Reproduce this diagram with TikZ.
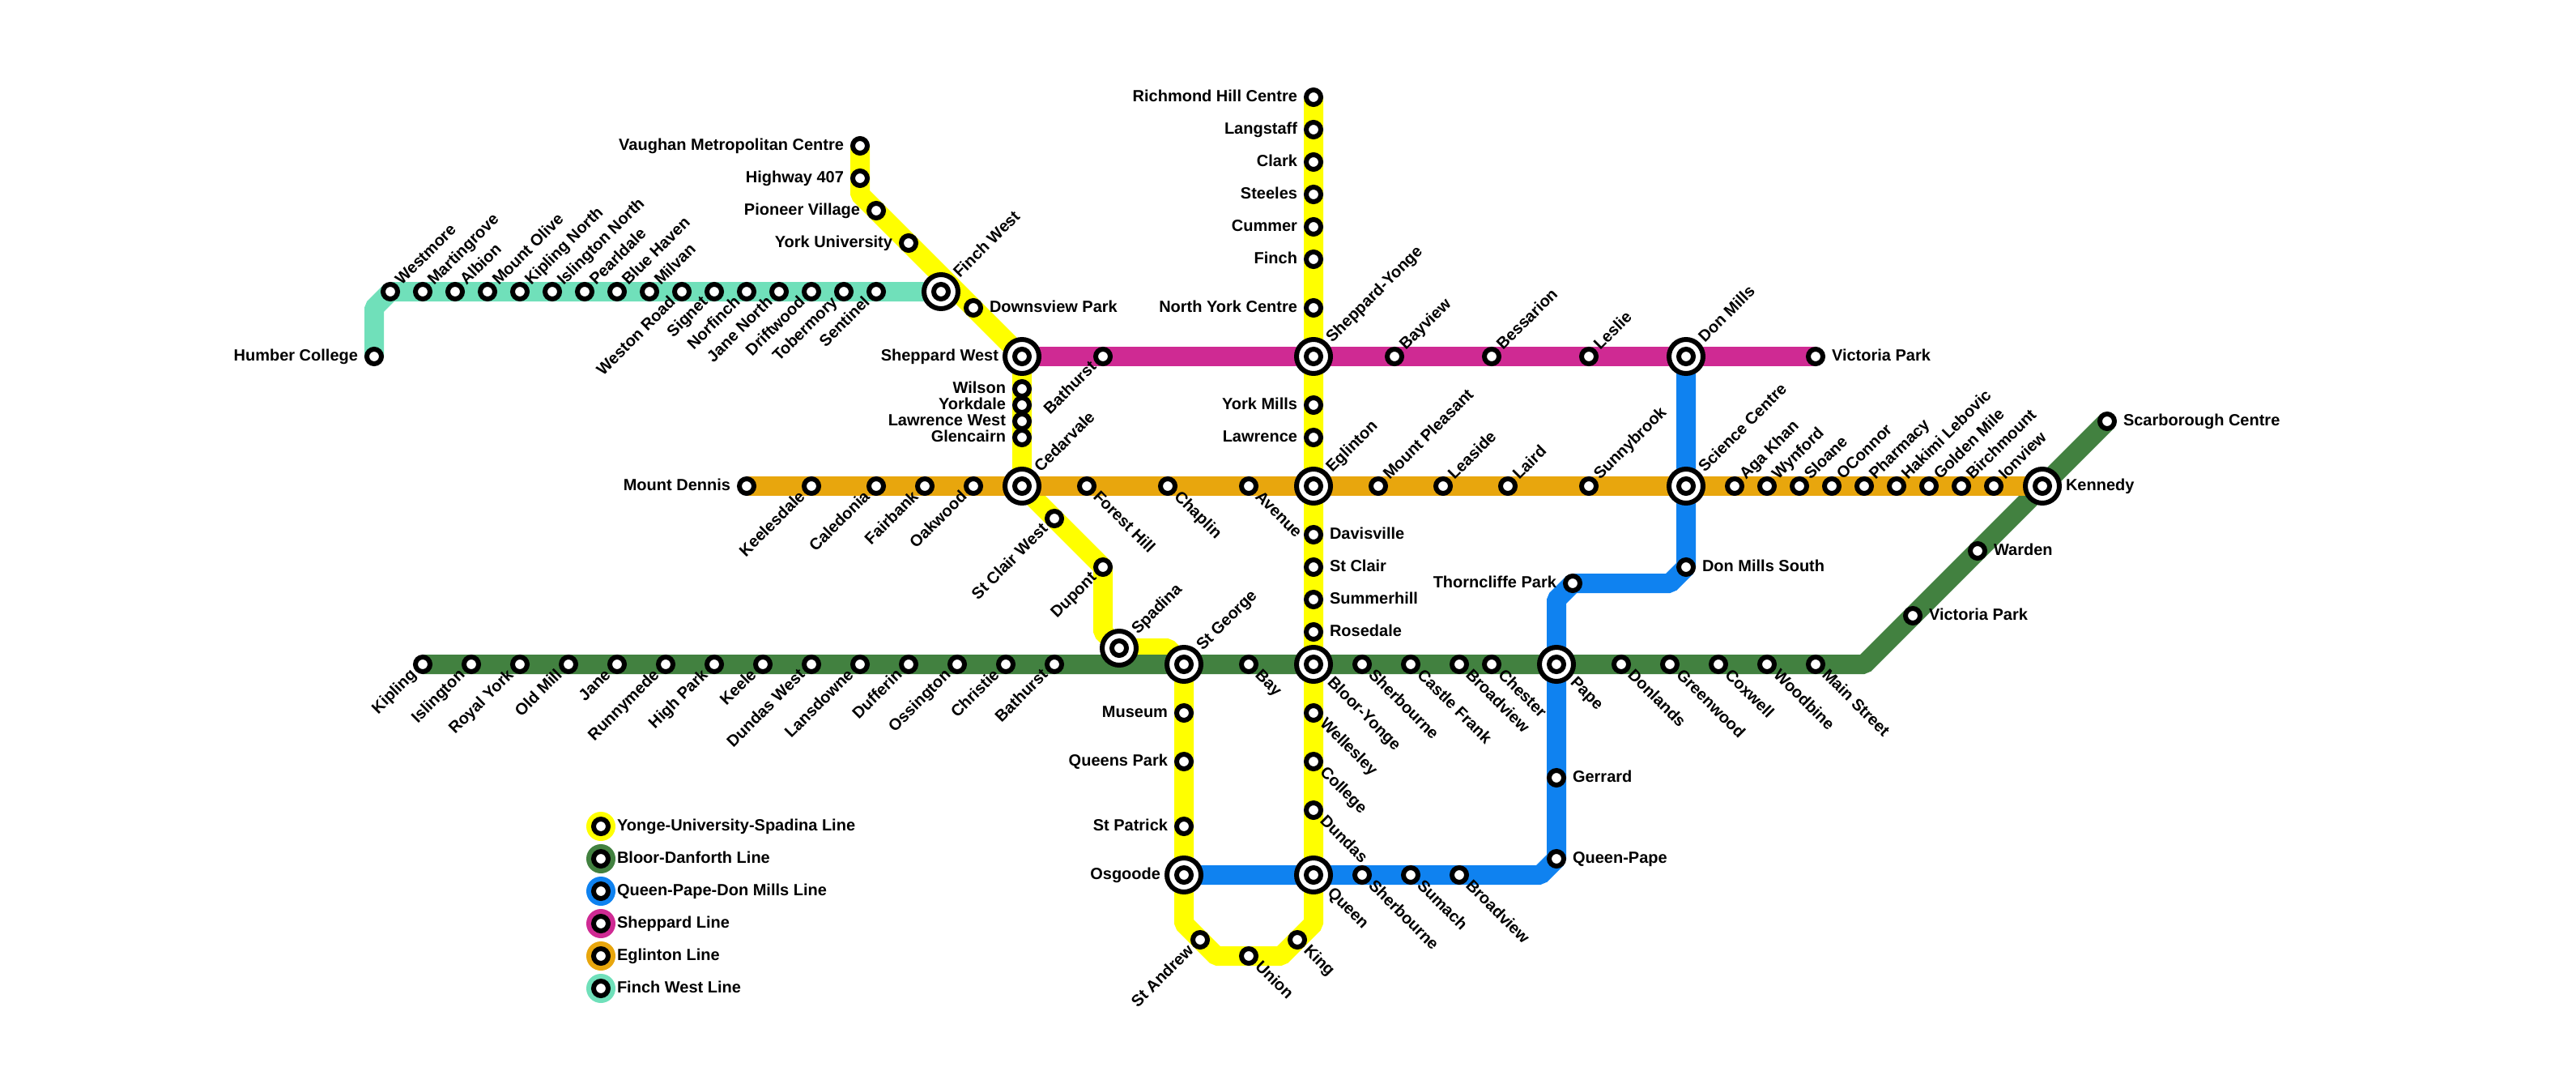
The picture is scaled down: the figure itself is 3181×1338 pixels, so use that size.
\documentclass[tikz,border=0pt]{standalone}
\usepackage{fontspec}
\setmainfont{Liberation Sans}
\usetikzlibrary{backgrounds}
\definecolor{lnyellow}{RGB}{255,255,0}
\definecolor{lngreen}{RGB}{66,129,64}
\definecolor{lnblue}{RGB}{15,130,240}
\definecolor{lnpink}{RGB}{207,42,147}
\definecolor{lnorange}{RGB}{232,166,13}
\definecolor{lnmint}{RGB}{112,224,186}
\tikzset{
    stn/.style={circle, draw=black, fill=white, line width=6pt, minimum size=18pt, inner sep=0pt, outer sep=0pt},
    xch/.style={circle, draw=black, fill=white, line width=6pt, minimum size=42pt, inner sep=0pt, outer sep=0pt},
    legdot/.style={circle, minimum size=36pt, inner sep=0pt, outer sep=0pt},
    txt/.style={font=\fontsize{20}{22}\selectfont\bfseries, inner sep=0pt, outer sep=0pt, text height=14pt, text depth=4pt},
    lw/.style={txt, anchor=east, xshift=-20pt},
    le/.style={txt, anchor=west, xshift=20pt},
    lne/.style={txt, rotate=45, anchor=west, xshift=15pt},
    lse/.style={txt, rotate=-45, anchor=west, xshift=15pt},
    lsw/.style={txt, rotate=45, anchor=east, xshift=-15pt},
    bw/.style={txt, anchor=east, xshift=-29pt},
    be/.style={txt, anchor=west, xshift=29pt},
    bne/.style={txt, rotate=45, anchor=west, xshift=28pt},
    bse/.style={txt, rotate=-45, anchor=west, xshift=28pt},
    line/.style={line width=24pt, rounded corners=2pt}
}
\begin{document}
\begin{tikzpicture}[x=1pt, y=-1pt]
    \useasboundingbox (-2,0) rectangle (3179,1338);

    % Interchanges
    \foreach \id/\x/\y/\dir/\txt in {finw/1160/360/bne/Finch West, shpw/1260/440/bw/Sheppard West,
        cedr/1260/600/bne/Cedarvale, spad/1380/800/bne/Spadina, stgo/1460/820/bne/St George,
        osgo/1460/1080/bw/Osgoode, bloy/1620/820/bse/Bloor-Yonge, quen/1620/1080/bse/Queen,
        egln/1620/600/bne/Eglinton, shpy/1620/440/bne/Sheppard-Yonge, donm/2080/440/bne/Don Mills,
        scic/2080/600/bne/Science Centre, pape/1920/820/bse/Pape, kenn/2520/600/be/Kennedy} {
        \node[xch] (\id) at (\x,\y) {};
        \node[stn] (\id-c) at (\x,\y) {};
        \node[\dir] (\id-t) at (\x,\y) {\txt};
    }

    % Finch West stations
    \foreach \id/\x/\y/\dir/\txt in {humb/460/440/lw/Humber College, west/480/360/lne/Westmore,
        mart/520/360/lne/Martingrove, albi/560/360/lne/Albion, moun/600/360/lne/Mount Olive,
        kipn/640/360/lne/Kipling North, isln/680/360/lne/Islington North, pear/720/360/lne/Pearldale,
        blue/760/360/lne/Blue Haven, milv/800/360/lne/Milvan, wstr/840/360/lsw/Weston Road,
        sign/880/360/lsw/Signet, norf/920/360/lsw/Norfinch, janN/960/360/lsw/Jane North,
        drif/1000/360/lsw/Driftwood, tobe/1040/360/lsw/Tobermory, sent/1080/360/lsw/Sentinel} {
        \node[stn] (\id) at (\x,\y) {};
        \node[\dir] (\id-t) at (\x,\y) {\txt};
    }

    % Yonge-University-Spadina stations
    \foreach \id/\x/\y/\dir/\txt in {vaug/1060/180/lw/Vaughan Metropolitan Centre, hwys/1060/220/lw/Highway 407,
        pion/1080/260/lw/Pioneer Village, yrku/1120/300/lw/York University, down/1200/380/le/Downsview Park,
        wils/1260/480/lw/Wilson, york/1260/500/lw/Yorkdale, lawW/1260/520/lw/Lawrence West,
        glen/1260/540/lw/Glencairn, stcW/1300/640/lsw/St Clair West, dupo/1360/700/lsw/Dupont,
        muse/1460/880/lw/Museum, quep/1460/940/lw/Queens Park, stpa/1460/1020/lw/St Patrick,
        stan/1480/1160/lsw/St Andrew, unio/1540/1180/lse/Union, king/1600/1160/lse/King,
        dund/1620/1000/lse/Dundas, coll/1620/940/lse/College, well/1620/880/lse/Wellesley,
        rose/1620/780/le/Rosedale, sumh/1620/740/le/Summerhill, stcl/1620/700/le/St Clair,
        davi/1620/660/le/Davisville, lawr/1620/540/lw/Lawrence, yorM/1620/500/lw/York Mills,
        nyor/1620/380/lw/North York Centre, finc/1620/320/lw/Finch, cumm/1620/280/lw/Cummer,
        stee/1620/240/lw/Steeles, clar/1620/200/lw/Clark, lang/1620/160/lw/Langstaff,
        rich/1620/120/lw/Richmond Hill Centre} {
        \node[stn] (\id) at (\x,\y) {};
        \node[\dir] (\id-t) at (\x,\y) {\txt};
    }

    % Bloor-Danforth stations
    \foreach \id/\x/\y/\dir/\txt in {kipl/520/820/lsw/Kipling, isli/580/820/lsw/Islington, royk/640/820/lsw/Royal York,
        oldm/700/820/lsw/Old Mill, jane/760/820/lsw/Jane, runn/820/820/lsw/Runnymede, high/880/820/lsw/High Park,
        keel/940/820/lsw/Keele, dunW/1000/820/lsw/Dundas West, lans/1060/820/lsw/Lansdowne,
        duff/1120/820/lsw/Dufferin, ossi/1180/820/lsw/Ossington, chri/1240/820/lsw/Christie,
        bath/1300/820/lsw/Bathurst, bayy/1540/820/lse/Bay, sher/1680/820/lse/Sherbourne,
        cast/1740/820/lse/Castle Frank, brod/1800/820/lse/Broadview, ches/1840/820/lse/Chester,
        donl/2000/820/lse/Donlands, gree/2060/820/lse/Greenwood, coxw/2120/820/lse/Coxwell,
        wood/2180/820/lse/Woodbine, main/2240/820/lse/Main Street, vicg/2360/760/le/Victoria Park,
        ward/2440/680/le/Warden, scar/2600/520/le/Scarborough Centre} {
        \node[stn] (\id) at (\x,\y) {};
        \node[\dir] (\id-t) at (\x,\y) {\txt};
    }

    % Queen-Pape-Don Mills stations
    \foreach \id/\x/\y/\dir/\txt in {shrb/1680/1080/lse/Sherbourne, suma/1740/1080/lse/Sumach, brdv/1800/1080/lse/Broadview,
        qupa/1920/1060/le/Queen-Pape, gerr/1920/960/le/Gerrard, thor/1940/720/lw/Thorncliffe Park,
        dmso/2080/700/le/Don Mills South} {
        \node[stn] (\id) at (\x,\y) {};
        \node[\dir] (\id-t) at (\x,\y) {\txt};
    }

    % Sheppard stations
    \foreach \id/\x/\y/\dir/\txt in {bthS/1360/440/lsw/Bathurst, bayv/1720/440/lne/Bayview, bess/1840/440/lne/Bessarion,
        lesl/1960/440/lne/Leslie, vicp/2240/440/le/Victoria Park} {
        \node[stn] (\id) at (\x,\y) {};
        \node[\dir] (\id-t) at (\x,\y) {\txt};
    }

    % Eglinton stations
    \foreach \id/\x/\y/\dir/\txt in {mden/920/600/lw/Mount Dennis, kees/1000/600/lsw/Keelesdale, cale/1080/600/lsw/Caledonia,
        fair/1140/600/lsw/Fairbank, oakw/1200/600/lsw/Oakwood, fore/1340/600/lse/Forest Hill,
        chap/1440/600/lse/Chaplin, aven/1540/600/lse/Avenue, mplz/1700/600/lne/Mount Pleasant,
        leas/1780/600/lne/Leaside, lair/1860/600/lne/Laird, sunn/1960/600/lne/Sunnybrook,
        agak/2140/600/lne/Aga Khan, wynf/2180/600/lne/Wynford, sloa/2220/600/lne/Sloane,
        ocon/2260/600/lne/OConnor, phar/2300/600/lne/Pharmacy, haki/2340/600/lne/Hakimi Lebovic,
        gold/2380/600/lne/Golden Mile, birc/2420/600/lne/Birchmount, ionv/2460/600/lne/Ionview} {
        \node[stn] (\id) at (\x,\y) {};
        \node[\dir] (\id-t) at (\x,\y) {\txt};
    }

    % Corners
    \coordinate (cA) at (460,380);
    \coordinate (cB) at (1060,240);
    \coordinate (cC) at (1360,780);
    \coordinate (cD) at (1440,800);
    \coordinate (cE) at (1460,1140);
    \coordinate (cF) at (1500,1180);
    \coordinate (cG) at (1580,1180);
    \coordinate (cH) at (1620,1140);
    \coordinate (cI) at (2300,820);
    \coordinate (cJ) at (1900,1080);
    \coordinate (cK) at (1920,740);
    \coordinate (cL) at (2060,720);

    % Lines
    \begin{pgfonlayer}{background}
        \draw[line, lnyellow] (vaug.center) -- (cB) -- (shpw.center) -- (cedr.center) -- (dupo.center) -- (cC)
            -- (spad.center) -- (cD) -- (stgo.center) -- (cE) -- (cF) -- (cG) -- (cH) -- (rich.center);
        \draw[line, lngreen] (kipl.center) -- (cI) -- (scar.center);
        \draw[line, lnblue] (osgo.center) -- (cJ) -- (qupa.center) -- (cK) -- (thor.center) -- (cL) -- (dmso.center) -- (donm.center);
        \draw[line, lnpink] (shpw.center) -- (vicp.center);
        \draw[line, lnorange] (mden.center) -- (kenn.center);
        \draw[line, lnmint] (humb.center) -- (cA) -- (west.center) -- (finw.center);
    \end{pgfonlayer}

    % Legend
    \foreach \n/\y/\col/\txt in {a/1020/lnyellow/Yonge-University-Spadina Line, b/1060/lngreen/Bloor-Danforth Line,
        c/1100/lnblue/Queen-Pape-Don Mills Line, d/1140/lnpink/Sheppard Line,
        e/1180/lnorange/Eglinton Line, f/1220/lnmint/Finch West Line} {
        \node[legdot, fill=\col] (leg\n) at (740,\y) {};
        \node[stn] (leg\n-c) at (740,\y) {};
        \node[txt, anchor=west] (leg\n-t) at (760,\y) {\txt};
    }
\end{tikzpicture}
\end{document}
